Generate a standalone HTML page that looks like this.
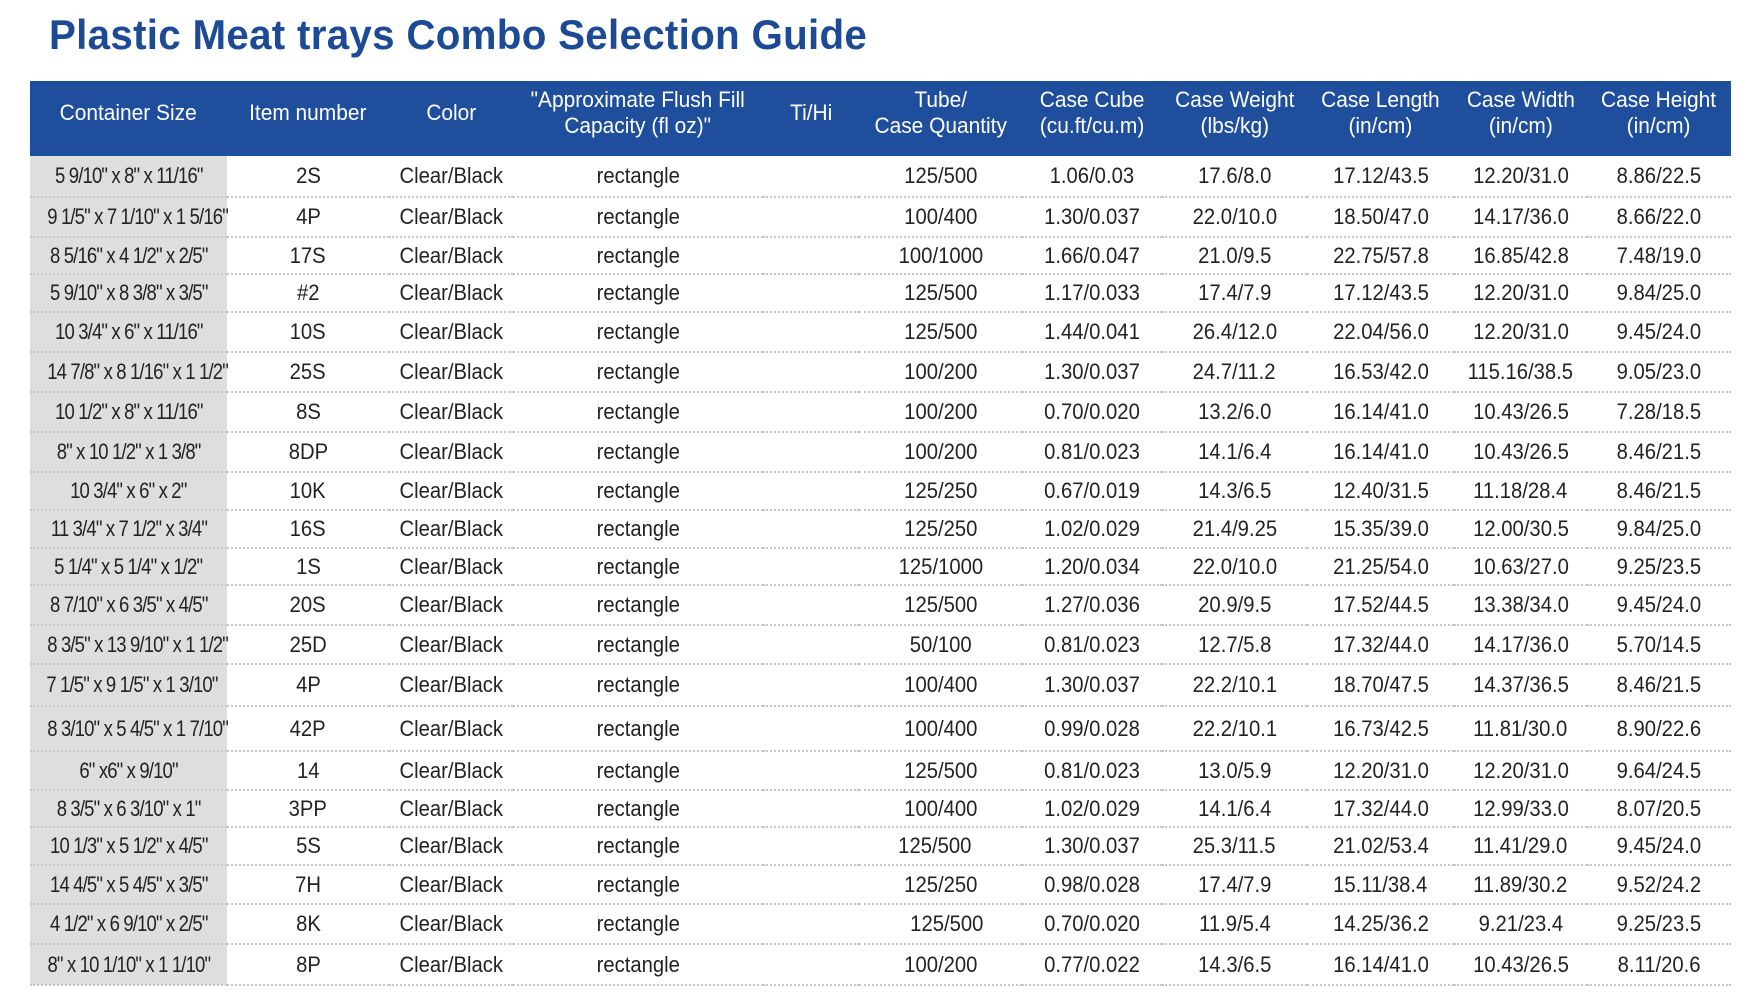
<!DOCTYPE html>
<html><head><meta charset="utf-8"><style>
body{margin:0;width:1760px;height:992px;background:#fff;overflow:hidden;font-family:"Liberation Sans",Arial,sans-serif;}
h1{position:absolute;left:49px;top:11px;margin:0;font-size:42px;font-weight:bold;color:#1d4a95;letter-spacing:0.3px;transform:scaleX(0.96);transform-origin:left center;white-space:nowrap;}
table{position:absolute;left:30px;top:81px;width:1701px;border-collapse:collapse;table-layout:fixed;}
th{background:#1f4e9d;color:#fff;font-weight:normal;font-size:22px;line-height:26px;height:63px;padding:0 0 12px 0;}
th span{transform:scaleX(0.95);}
td{text-align:center;font-size:22px;color:#222;padding:0;border-bottom:2px dotted #c8c8c8;white-space:nowrap;}
td:first-child{background:#dedede;}
span{display:inline-block;transform:scaleX(0.92);}
td:first-child span{transform:scaleX(0.84);letter-spacing:-1px;}
</style></head><body>
<h1>Plastic Meat trays Combo Selection Guide</h1>
<table>
<colgroup><col style="width:197px"><col style="width:162px"><col style="width:124px"><col style="width:250px"><col style="width:96px"><col style="width:163px"><col style="width:140px"><col style="width:145px"><col style="width:147px"><col style="width:133px"><col style="width:144px"></colgroup>
<tr><th><span>Container Size</span></th><th><span>Item number</span></th><th><span>Color</span></th><th><span>"Approximate Flush Fill<br>Capacity (fl oz)"</span></th><th><span>Ti/Hi</span></th><th><span>Tube/<br>Case Quantity</span></th><th><span>Case Cube<br>(cu.ft/cu.m)</span></th><th><span>Case Weight<br>(lbs/kg)</span></th><th><span>Case Length<br>(in/cm)</span></th><th><span>Case Width<br>(in/cm)</span></th><th><span>Case Height<br>(in/cm)</span></th></tr>
<tr style="height:41px"><td><span>5 9/10" x 8" x 11/16"</span></td><td><span>2S</span></td><td><span>Clear/Black</span></td><td><span>rectangle</span></td><td></td><td><span>125/500</span></td><td><span>1.06/0.03</span></td><td><span>17.6/8.0</span></td><td><span>17.12/43.5</span></td><td><span>12.20/31.0</span></td><td><span>8.86/22.5</span></td></tr>
<tr style="height:40px"><td><span>9 1/5" x 7 1/10" x 1 5/16"</span></td><td><span>4P</span></td><td><span>Clear/Black</span></td><td><span>rectangle</span></td><td></td><td><span>100/400</span></td><td><span>1.30/0.037</span></td><td><span>22.0/10.0</span></td><td><span>18.50/47.0</span></td><td><span>14.17/36.0</span></td><td><span>8.66/22.0</span></td></tr>
<tr style="height:37px"><td><span>8 5/16" x 4 1/2" x 2/5"</span></td><td><span>17S</span></td><td><span>Clear/Black</span></td><td><span>rectangle</span></td><td></td><td><span>100/1000</span></td><td><span>1.66/0.047</span></td><td><span>21.0/9.5</span></td><td><span>22.75/57.8</span></td><td><span>16.85/42.8</span></td><td><span>7.48/19.0</span></td></tr>
<tr style="height:38px"><td><span>5 9/10" x 8 3/8" x 3/5"</span></td><td><span>#2</span></td><td><span>Clear/Black</span></td><td><span>rectangle</span></td><td></td><td><span>125/500</span></td><td><span>1.17/0.033</span></td><td><span>17.4/7.9</span></td><td><span>17.12/43.5</span></td><td><span>12.20/31.0</span></td><td><span>9.84/25.0</span></td></tr>
<tr style="height:40px"><td><span>10 3/4" x 6" x 11/16"</span></td><td><span>10S</span></td><td><span>Clear/Black</span></td><td><span>rectangle</span></td><td></td><td><span>125/500</span></td><td><span>1.44/0.041</span></td><td><span>26.4/12.0</span></td><td><span>22.04/56.0</span></td><td><span>12.20/31.0</span></td><td><span>9.45/24.0</span></td></tr>
<tr style="height:40px"><td><span>14 7/8" x 8 1/16" x 1 1/2"</span></td><td><span>25S</span></td><td><span>Clear/Black</span></td><td><span>rectangle</span></td><td></td><td><span>100/200</span></td><td><span>1.30/0.037</span></td><td><span>24.7/11.2</span></td><td><span>16.53/42.0</span></td><td><span>115.16/38.5</span></td><td><span>9.05/23.0</span></td></tr>
<tr style="height:40px"><td><span>10 1/2" x 8" x 11/16"</span></td><td><span>8S</span></td><td><span>Clear/Black</span></td><td><span>rectangle</span></td><td></td><td><span>100/200</span></td><td><span>0.70/0.020</span></td><td><span>13.2/6.0</span></td><td><span>16.14/41.0</span></td><td><span>10.43/26.5</span></td><td><span>7.28/18.5</span></td></tr>
<tr style="height:40px"><td><span>8" x 10 1/2" x 1 3/8"</span></td><td><span>8DP</span></td><td><span>Clear/Black</span></td><td><span>rectangle</span></td><td></td><td><span>100/200</span></td><td><span>0.81/0.023</span></td><td><span>14.1/6.4</span></td><td><span>16.14/41.0</span></td><td><span>10.43/26.5</span></td><td><span>8.46/21.5</span></td></tr>
<tr style="height:38px"><td><span>10 3/4" x 6" x 2"</span></td><td><span>10K</span></td><td><span>Clear/Black</span></td><td><span>rectangle</span></td><td></td><td><span>125/250</span></td><td><span>0.67/0.019</span></td><td><span>14.3/6.5</span></td><td><span>12.40/31.5</span></td><td><span>11.18/28.4</span></td><td><span>8.46/21.5</span></td></tr>
<tr style="height:38px"><td><span>11 3/4" x 7 1/2" x 3/4"</span></td><td><span>16S</span></td><td><span>Clear/Black</span></td><td><span>rectangle</span></td><td></td><td><span>125/250</span></td><td><span>1.02/0.029</span></td><td><span>21.4/9.25</span></td><td><span>15.35/39.0</span></td><td><span>12.00/30.5</span></td><td><span>9.84/25.0</span></td></tr>
<tr style="height:37px"><td><span>5 1/4" x 5 1/4" x 1/2"</span></td><td><span>1S</span></td><td><span>Clear/Black</span></td><td><span>rectangle</span></td><td></td><td><span>125/1000</span></td><td><span>1.20/0.034</span></td><td><span>22.0/10.0</span></td><td><span>21.25/54.0</span></td><td><span>10.63/27.0</span></td><td><span>9.25/23.5</span></td></tr>
<tr style="height:40px"><td><span>8 7/10" x 6 3/5" x 4/5"</span></td><td><span>20S</span></td><td><span>Clear/Black</span></td><td><span>rectangle</span></td><td></td><td><span>125/500</span></td><td><span>1.27/0.036</span></td><td><span>20.9/9.5</span></td><td><span>17.52/44.5</span></td><td><span>13.38/34.0</span></td><td><span>9.45/24.0</span></td></tr>
<tr style="height:39px"><td><span>8 3/5" x 13 9/10" x 1 1/2"</span></td><td><span>25D</span></td><td><span>Clear/Black</span></td><td><span>rectangle</span></td><td></td><td><span>50/100</span></td><td><span>0.81/0.023</span></td><td><span>12.7/5.8</span></td><td><span>17.32/44.0</span></td><td><span>14.17/36.0</span></td><td><span>5.70/14.5</span></td></tr>
<tr style="height:42px"><td><span>7 1/5" x 9 1/5" x 1 3/10"</span></td><td><span>4P</span></td><td><span>Clear/Black</span></td><td><span>rectangle</span></td><td></td><td><span>100/400</span></td><td><span>1.30/0.037</span></td><td><span>22.2/10.1</span></td><td><span>18.70/47.5</span></td><td><span>14.37/36.5</span></td><td><span>8.46/21.5</span></td></tr>
<tr style="height:45px"><td><span>8 3/10" x 5 4/5" x 1 7/10"</span></td><td><span>42P</span></td><td><span>Clear/Black</span></td><td><span>rectangle</span></td><td></td><td><span>100/400</span></td><td><span>0.99/0.028</span></td><td><span>22.2/10.1</span></td><td><span>16.73/42.5</span></td><td><span>11.81/30.0</span></td><td><span>8.90/22.6</span></td></tr>
<tr style="height:39px"><td><span>6" x6" x 9/10"</span></td><td><span>14</span></td><td><span>Clear/Black</span></td><td><span>rectangle</span></td><td></td><td><span>125/500</span></td><td><span>0.81/0.023</span></td><td><span>13.0/5.9</span></td><td><span>12.20/31.0</span></td><td><span>12.20/31.0</span></td><td><span>9.64/24.5</span></td></tr>
<tr style="height:37px"><td><span>8 3/5" x 6 3/10" x 1"</span></td><td><span>3PP</span></td><td><span>Clear/Black</span></td><td><span>rectangle</span></td><td></td><td><span>100/400</span></td><td><span>1.02/0.029</span></td><td><span>14.1/6.4</span></td><td><span>17.32/44.0</span></td><td><span>12.99/33.0</span></td><td><span>8.07/20.5</span></td></tr>
<tr style="height:38px"><td><span>10 1/3" x 5 1/2" x 4/5"</span></td><td><span>5S</span></td><td><span>Clear/Black</span></td><td><span>rectangle</span></td><td></td><td><span style="margin-right:12px">125/500</span></td><td><span>1.30/0.037</span></td><td><span>25.3/11.5</span></td><td><span>21.02/53.4</span></td><td><span>11.41/29.0</span></td><td><span>9.45/24.0</span></td></tr>
<tr style="height:39px"><td><span>14 4/5" x 5 4/5" x 3/5"</span></td><td><span>7H</span></td><td><span>Clear/Black</span></td><td><span>rectangle</span></td><td></td><td><span>125/250</span></td><td><span>0.98/0.028</span></td><td><span>17.4/7.9</span></td><td><span>15.11/38.4</span></td><td><span>11.89/30.2</span></td><td><span>9.52/24.2</span></td></tr>
<tr style="height:40px"><td><span>4 1/2" x 6 9/10" x 2/5"</span></td><td><span>8K</span></td><td><span>Clear/Black</span></td><td><span>rectangle</span></td><td></td><td><span style="margin-left:12px">125/500</span></td><td><span>0.70/0.020</span></td><td><span>11.9/5.4</span></td><td><span>14.25/36.2</span></td><td><span>9.21/23.4</span></td><td><span>9.25/23.5</span></td></tr>
<tr style="height:41px"><td><span>8" x 10 1/10" x 1 1/10"</span></td><td><span>8P</span></td><td><span>Clear/Black</span></td><td><span>rectangle</span></td><td></td><td><span>100/200</span></td><td><span>0.77/0.022</span></td><td><span>14.3/6.5</span></td><td><span>16.14/41.0</span></td><td><span>10.43/26.5</span></td><td><span>8.11/20.6</span></td></tr>
</table>
</body></html>
